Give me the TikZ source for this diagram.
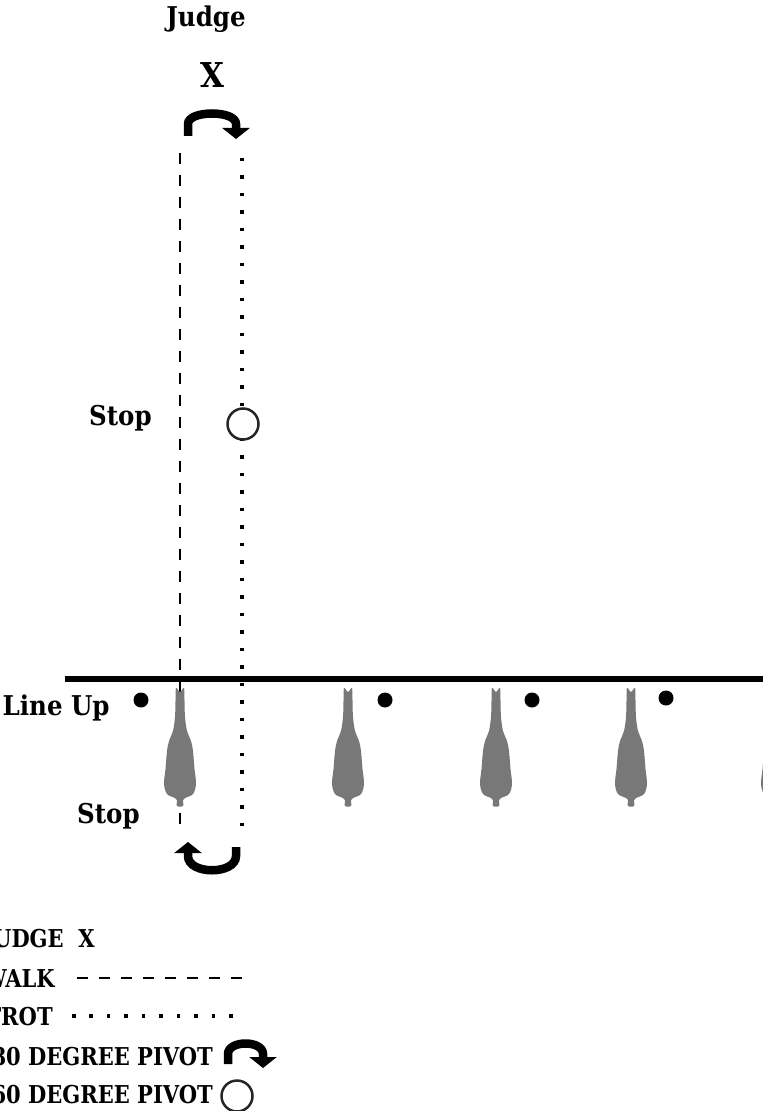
\documentclass[tikz,border=0pt]{standalone}
\usepackage{fontspec}
\setmainfont{DejaVu Serif Condensed}
\usetikzlibrary{arrows.meta}
\definecolor{horsegray}{gray}{0.47}

\begin{document}
\begin{tikzpicture}[x=0.02cm, y=-0.02cm,
  lbl/.style = {font=\fontsize{15.5}{18}\selectfont\bfseries, inner sep=0pt},
  key/.style = {font=\fontsize{14}{17}\selectfont\bfseries, inner sep=0pt, xscale=0.95, transform shape},
  walk/.style = {line width=0.045cm, dash pattern=on 0.22cm off 0.22cm},
  trot/.style = {line width=0.07cm, dash pattern=on 0.07cm off 0.28cm},
  pivot/.style = {line width=0.17cm, -{Triangle[width=0.54cm,length=0.22cm]}},
  spot/.style = {circle, fill, inner sep=0pt, minimum size=0.3cm},
  ring/.style = {circle, draw=black!85, line width=0.05cm, fill=white, inner sep=0pt, minimum size=0.62cm},
  horse/.pic = {\fill[horsegray] plot[smooth cycle, tension=0.55] coordinates {(-4,-1) (0,3) (4,-1) (4.5,12) (5,28) (7,42) (11,52) (13,62) (14.5,80) (16,95) (13,105) (5,109) (3,111) (3,117) (-3,117) (-3,111) (-5,109) (-13,105) (-16,95) (-14.5,80) (-13,62) (-11,52) (-7,42) (-5,28) (-4.5,12)};}
]
\useasboundingbox (0,0) rectangle (763,1111);

\node[lbl, anchor=base] (judge) at (206,27) {Judge};
\node[lbl, font=\fontsize{19.5}{23}\selectfont\bfseries, anchor=base] (x) at (212,88) {X};

\coordinate (w1) at (180,153);
\coordinate (w2) at (180,824);
\coordinate (t1) at (242,158);
\coordinate (t2) at (242,826);
\draw[walk] (w1) -- (w2);
\draw[trot] (t1) -- (t2);

\coordinate (l1) at (65,679);
\coordinate (l2) at (763,679);
\draw[line width=0.12cm] (l1) -- (l2);

\foreach \hx in {180,348,496,631,777}
  \pic at (\hx,689) {horse};

\node[spot] (d1) at (141,700) {};
\node[spot] (d2) at (385,700) {};
\node[spot] (d3) at (532,700) {};
\node[spot] (d4) at (666,698) {};

\node[lbl, anchor=base east] (stop1) at (152,425) {Stop};
\node[lbl, anchor=base east] (lineup) at (110,715) {Line Up};
\node[lbl, anchor=base east] (stop2) at (140,823) {Stop};

\node[ring] (spin) at (243,424) {};

\draw[pivot] (188,136) -- (188,124) .. controls (188,110) and (236,110) .. (236,124) -- (236,139);
\draw[pivot] (236,847) -- (236,856) .. controls (236,875) and (188,875) .. (188,856) -- (188,842);

\node[key, anchor=base east] (k1) at (95,947) {JUDGE\ \ X};
\node[key, anchor=base east] (k2) at (55,987) {WALK};
\coordinate (k2a) at (77,978);
\coordinate (k2b) at (242,978);
\draw[walk] (k2a) -- (k2b);
\node[key, anchor=base east] (k3) at (53,1025) {TROT};
\coordinate (k3a) at (72,1016);
\coordinate (k3b) at (233,1016);
\draw[trot] (k3a) -- (k3b);
\node[key, anchor=base east] (k4) at (213,1065) {180 DEGREE PIVOT};
\draw[pivot] (228,1064) -- (228,1054) .. controls (228,1040) and (263,1040) .. (263,1054) -- (263,1068);
\node[key, anchor=base east] (k5) at (213,1103) {360 DEGREE PIVOT};
\node[ring] (k5r) at (237,1096) {};
\end{tikzpicture}
\end{document}
